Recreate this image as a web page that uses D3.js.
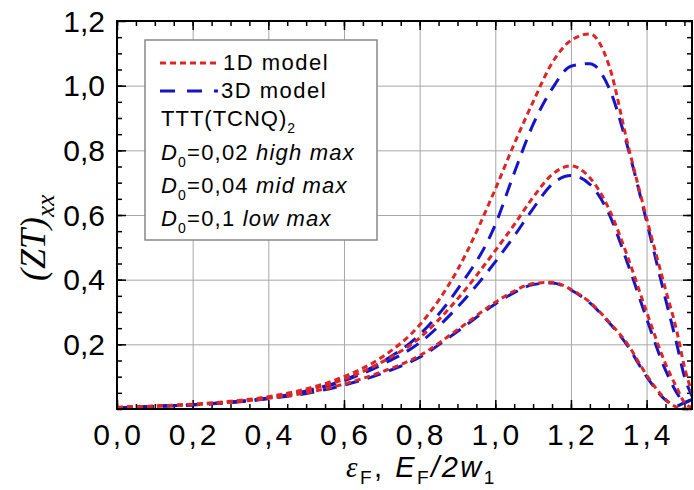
<!DOCTYPE html>
<html>
<head>
<meta charset="utf-8">
<script src="https://cdn.jsdelivr.net/npm/d3@7/dist/d3.min.js"></script>
<style>
body { margin: 0; background: #fff; }
svg { display: block; }
.grid line { stroke: #a8a8a8; stroke-width: 1; }
.grid path { display: none; }
.ticks path { display: none; }
.ticks line { stroke: #000; stroke-width: 1.5; }
.ticks text { display: none; }
</style>
</head>
<body>
<svg id="chart" width="694" height="490"></svg>
<script>
// x values (eps_F) shared by all curves
var xs = [0, 0.1, 0.2, 0.3, 0.4, 0.5, 0.6, 0.7, 0.8, 0.9, 1.0, 1.05, 1.1, 1.15, 1.2, 1.25, 1.3, 1.35, 1.4, 1.45, 1.48, 1.5, 1.52];

// 1D model (red dotted)
var red_high = [0.005, 0.009, 0.015, 0.024, 0.038, 0.062, 0.1, 0.16, 0.26, 0.43, 0.68, 0.82, 0.95, 1.07, 1.14, 1.16, 1.065, 0.82, 0.59, 0.37, 0.24, 0.13, 0.05];
var red_mid  = [0.005, 0.009, 0.014, 0.022, 0.035, 0.057, 0.092, 0.145, 0.22, 0.34, 0.49, 0.57, 0.655, 0.725, 0.752, 0.715, 0.62, 0.47, 0.3, 0.14, 0.065, 0.02, 0.005];
var red_low  = [0.005, 0.009, 0.014, 0.021, 0.033, 0.05, 0.077, 0.115, 0.165, 0.245, 0.33, 0.365, 0.388, 0.392, 0.37, 0.33, 0.27, 0.2, 0.105, 0.03, 0.005, 0.0, 0.0];

// 3D model (blue dashed)
var blue_high = [0.004, 0.008, 0.013, 0.021, 0.034, 0.056, 0.09, 0.145, 0.23, 0.37, 0.57, 0.73, 0.88, 0.99, 1.06, 1.068, 0.995, 0.81, 0.58, 0.34, 0.2, 0.1, 0.04];
var blue_mid  = [0.004, 0.008, 0.013, 0.021, 0.033, 0.054, 0.087, 0.137, 0.205, 0.315, 0.455, 0.535, 0.62, 0.695, 0.722, 0.695, 0.605, 0.45, 0.28, 0.12, 0.05, 0.02, 0.03];
var blue_low  = [0.004, 0.008, 0.013, 0.02, 0.032, 0.048, 0.074, 0.11, 0.16, 0.24, 0.325, 0.36, 0.385, 0.39, 0.368, 0.328, 0.268, 0.195, 0.1, 0.028, 0.01, 0.02, 0.03];

var xTicks = [0, 0.2, 0.4, 0.6, 0.8, 1.0, 1.2, 1.4];
var yTicks = [0.2, 0.4, 0.6, 0.8, 1.0, 1.2];

var legendRows = ["TTT(TCNQ)", "=0,02 ", "=0,04 ", "=0,1 "];
var legendItalic = ["", "high max", "mid max", "low max"];

var svg = d3.select("#chart"),
    margin = {top: 21, right: 2, bottom: 81, left: 117},
    width = +svg.attr("width") - margin.left - margin.right,
    height = +svg.attr("height") - margin.top - margin.bottom;

var x = d3.scaleLinear().domain([0, 1.52]).range([0, width]);
var y = d3.scaleLinear().domain([0, 1.2]).range([height, 0]);

var fmt = function(d) { return d3.format(".1f")(d).replace(".", ","); };

var g = svg.append("g")
    .attr("transform", "translate(" + margin.left + "," + margin.top + ")");

// grid
g.append("g").attr("class", "grid")
    .attr("transform", "translate(0," + height + ")")
    .call(d3.axisBottom(x).tickValues(xTicks.slice(1)).tickSize(-height).tickFormat(""));
g.append("g").attr("class", "grid")
    .call(d3.axisLeft(y).tickValues([0.2, 0.4, 0.6, 0.8, 1.0]).tickSize(-width).tickFormat(""));

// minor + major ticks, pointing inward on all four sides
var minorX = d3.range(0, 1.52, 0.05), minorY = d3.range(0, 1.2, 0.05);
g.append("g").attr("class", "ticks").attr("transform", "translate(0," + height + ")")
    .call(d3.axisBottom(x).tickValues(minorX).tickSize(-5));
g.append("g").attr("class", "ticks").attr("transform", "translate(0," + height + ")")
    .call(d3.axisBottom(x).tickValues(xTicks).tickSize(-9));
g.append("g").attr("class", "ticks")
    .call(d3.axisTop(x).tickValues(minorX).tickSize(-5));
g.append("g").attr("class", "ticks")
    .call(d3.axisTop(x).tickValues(xTicks).tickSize(-9));
g.append("g").attr("class", "ticks")
    .call(d3.axisLeft(y).tickValues(minorY).tickSize(-5));
g.append("g").attr("class", "ticks")
    .call(d3.axisLeft(y).tickValues(yTicks).tickSize(-9));
g.append("g").attr("class", "ticks").attr("transform", "translate(" + width + ",0)")
    .call(d3.axisRight(y).tickValues(minorY).tickSize(-5));
g.append("g").attr("class", "ticks").attr("transform", "translate(" + width + ",0)")
    .call(d3.axisRight(y).tickValues(yTicks).tickSize(-9));

// tick labels
g.selectAll(".xlab").data(xTicks).enter().append("text")
    .attr("x", function(d) { return x(d) + 1.5; })
    .attr("y", height + 36)
    .attr("text-anchor", "middle")
    .style("font", "30px 'Liberation Sans', Arial, sans-serif")
    .style("letter-spacing", "3px")
    .text(fmt);
g.selectAll(".ylab").data(yTicks).enter().append("text")
    .attr("x", -12)
    .attr("y", function(d) { return y(d) + 10.5; })
    .attr("text-anchor", "end")
    .style("font", "30px 'Liberation Sans', Arial, sans-serif")
    .text(fmt);

// curves
var line = d3.line()
    .x(function(d) { return x(d[0]); })
    .y(function(d) { return y(d[1]); })
    .curve(d3.curveMonotoneX);

var plot = g.append("g");
var blues = [blue_high, blue_mid, blue_low], reds = [red_high, red_mid, red_low];
blues.forEach(function(s) {
    plot.append("path")
        .datum(xs.map(function(v, i) { return [v, s[i]]; }))
        .attr("d", line)
        .attr("fill", "none")
        .attr("stroke", "#1414c8")
        .attr("stroke-width", 3)
        .attr("stroke-dasharray", "14,9");
});
reds.forEach(function(s) {
    plot.append("path")
        .datum(xs.map(function(v, i) { return [v, s[i]]; }))
        .attr("d", line)
        .attr("fill", "none")
        .attr("stroke", "#dc2626")
        .attr("stroke-width", 3)
        .attr("stroke-dasharray", "6,4");
});

// frame
g.append("rect")
    .attr("width", width).attr("height", height)
    .attr("fill", "none").attr("stroke", "#000").attr("stroke-width", 2);

// legend
var lg = svg.append("g");
lg.append("rect")
    .attr("x", 145).attr("y", 40).attr("width", 232).attr("height", 200)
    .attr("fill", "#fff").attr("stroke", "#888").attr("stroke-width", 1.5);
lg.append("line").attr("x1", 160).attr("x2", 218).attr("y1", 63).attr("y2", 63)
    .attr("stroke", "#dc2626").attr("stroke-width", 3).attr("stroke-dasharray", "6,4");
lg.append("line").attr("x1", 160).attr("x2", 218).attr("y1", 91).attr("y2", 91)
    .attr("stroke", "#1414c8").attr("stroke-width", 3).attr("stroke-dasharray", "15,12");

var lfont = "22px 'Liberation Sans', Arial, sans-serif";
lg.append("text").attr("x", 223).attr("y", 70).style("font", lfont).style("letter-spacing", "1.5px").text("1D model");
lg.append("text").attr("x", 221).attr("y", 98).style("font", lfont).style("letter-spacing", "1.5px").text("3D model");

var t0 = lg.append("text").attr("x", 161).attr("y", 126).style("font", lfont).style("letter-spacing", "1px");
t0.append("tspan").text(legendRows[0]);
t0.append("tspan").attr("dy", 7).style("font-size", "14px").text("2");

[160, 193, 226].forEach(function(by, i) {
    var t = lg.append("text").attr("x", 161).attr("y", by).style("font", lfont).style("letter-spacing", "1.2px");
    t.append("tspan").style("font-style", "italic").text("D");
    t.append("tspan").attr("dy", 7).style("font-size", "14px").text("0");
    t.append("tspan").attr("dy", -7).text(legendRows[i + 1]);
    t.append("tspan").style("font-style", "italic").text(legendItalic[i + 1]);
});

// axis titles
var xt = svg.append("text").attr("x", 346).attr("y", 477)
    .style("font", "italic 29px 'Liberation Sans', Arial, sans-serif")
    .style("letter-spacing", "2.5px");
xt.append("tspan").style("font-family", "'Liberation Serif', serif").text("\u03b5");
xt.append("tspan").attr("dy", 7).style("font-size", "19px").style("font-style", "normal").text("F");
xt.append("tspan").attr("dy", -7).style("font-style", "normal").text(", ");
xt.append("tspan").text("E");
xt.append("tspan").attr("dy", 7).style("font-size", "19px").style("font-style", "normal").text("F");
xt.append("tspan").attr("dy", -7).text("/2w");
xt.append("tspan").attr("dy", 7).style("font-size", "19px").style("font-style", "normal").text("1");

var yt = svg.append("text")
    .attr("transform", "translate(45,281) rotate(-90)")
    .style("font", "italic 36px 'Liberation Serif', 'Times New Roman', serif");
yt.append("tspan").text("(ZT)");
yt.append("tspan").attr("dy", 9).style("font-size", "25px").text("xx");
</script>
</body>
</html>
